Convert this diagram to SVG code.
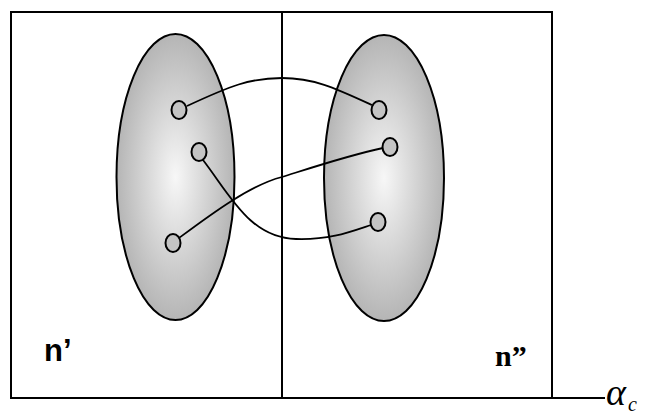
<svg xmlns="http://www.w3.org/2000/svg" width="645" height="414" viewBox="0 0 645 414">
<defs>
<radialGradient id="g" cx="50%" cy="50%" r="50%">
<stop offset="0" stop-color="#f7f7f7"/>
<stop offset="1" stop-color="#b5b5b5"/>
</radialGradient>
<style>
.frame{fill:none;stroke:#000;stroke-width:2}
.set{fill:url(#g);stroke:#000;stroke-width:2}
.pt{fill:#c4c4c4;stroke:#000;stroke-width:2}
.edge{fill:none;stroke:#000;stroke-width:1.8}
</style>
</defs>
<rect width="645" height="414" fill="#fff"/>
<g id="frame">
<rect class="frame" x="11" y="12" width="541" height="386"/>
<line class="frame" x1="282" y1="12" x2="282" y2="398"/>
<line class="frame" x1="552" y1="398" x2="605" y2="398"/>
</g>
<g id="set-left"><ellipse class="set" cx="175.5" cy="177" rx="59" ry="143"/></g>
<g id="set-right"><ellipse class="set" cx="384" cy="178" rx="60" ry="143"/></g>
<g id="connectors">
<path class="edge" d="M187,106 C230,86 250,78 282,78 C314,78 335,88 372,105"/>
<path class="edge" d="M203,160 C230,195 250,238 296,239 C330,240 350,232 371,225"/>
<path class="edge" d="M179,238 C210,215 250,185 282,177 C320,165 350,155 383,148"/>
</g>
<g id="l1"><ellipse class="pt" cx="179" cy="110" rx="7.5" ry="9"/></g>
<g id="l2"><ellipse class="pt" cx="199" cy="152" rx="7.5" ry="9"/></g>
<g id="l3"><ellipse class="pt" cx="173" cy="243" rx="7.5" ry="9"/></g>
<g id="r1"><ellipse class="pt" cx="379" cy="110" rx="7.5" ry="9"/></g>
<g id="r2"><ellipse class="pt" cx="390" cy="147" rx="7.5" ry="9"/></g>
<g id="r3"><ellipse class="pt" cx="378" cy="222" rx="7.5" ry="9"/></g>
<g id="labels">
<text x="44" y="361" font-family="Liberation Sans, Arial, sans-serif" font-weight="bold" font-size="31">n’</text>
<text x="495" y="366" font-family="Liberation Serif, Times New Roman, serif" font-weight="bold" font-size="30">n”</text>
<text x="606" y="405" font-family="Liberation Serif, Times New Roman, serif" font-style="italic" font-size="38">α</text>
<text x="628" y="411" font-family="Liberation Serif, Times New Roman, serif" font-style="italic" font-size="20">c</text>
</g>
</svg>
